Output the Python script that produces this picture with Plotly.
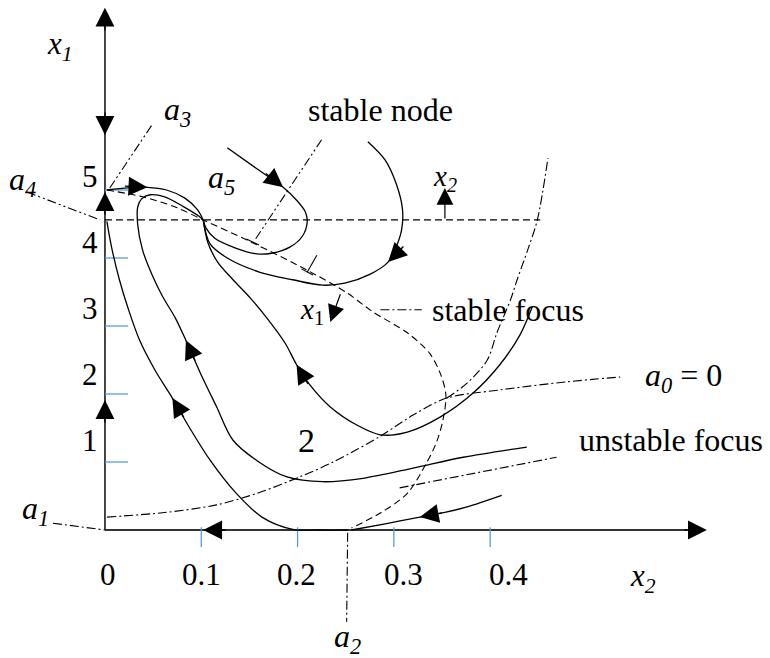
import math
import plotly.graph_objects as go

# ---------------- phase-plane data (x2 horizontal, x1 vertical) ----------------
# trajectories, each listed in the direction of motion
t1_x2 = [0.002, 0.024, 0.044, 0.064, 0.083, 0.096, 0.102]
t1_x1 = [5.00, 5.03, 5.04, 5.00, 4.88, 4.71, 4.56]

t2_x2 = [0.438, 0.372, 0.320, 0.268, 0.226, 0.189, 0.161, 0.133, 0.116, 0.099, 0.084,
         0.073, 0.060, 0.049, 0.039, 0.034, 0.034, 0.038, 0.047, 0.062, 0.081, 0.097, 0.102]
t2_x1 = [1.22, 1.07, 0.91, 0.76, 0.71, 0.78, 0.99, 1.32, 1.81, 2.31, 2.79,
         3.12, 3.43, 3.75, 4.12, 4.49, 4.75, 4.87, 4.93, 4.90, 4.76, 4.62, 4.56]

t3_x2 = [0.252, 0.223, 0.195, 0.163, 0.135, 0.109, 0.088, 0.070, 0.052, 0.036, 0.024, 0.015, 0.007, 0.002]
t3_x1 = [0.00, 0.00, 0.01, 0.19, 0.56, 1.03, 1.50, 1.94, 2.35, 2.79, 3.26, 3.68, 4.15, 4.54]

t4_x2 = [0.412, 0.376, 0.353, 0.327, 0.291, 0.256]
t4_x1 = [0.51, 0.34, 0.26, 0.19, 0.09, 0.00]

t6_x2 = [0.127, 0.163, 0.185, 0.199, 0.208, 0.210, 0.205, 0.192, 0.173, 0.158, 0.135, 0.114, 0.105, 0.102]
t6_x1 = [5.62, 5.26, 5.04, 4.85, 4.68, 4.53, 4.32, 4.16, 4.07, 4.06, 4.15, 4.29, 4.44, 4.56]

t7_x2 = [0.273, 0.291, 0.303, 0.309, 0.308, 0.302, 0.294, 0.275, 0.249, 0.226, 0.195, 0.161, 0.127, 0.109, 0.102]
t7_x1 = [5.71, 5.44, 5.07, 4.71, 4.41, 4.15, 3.94, 3.76, 3.63, 3.60, 3.68, 3.79, 4.00, 4.21, 4.56]

t8_x2 = [0.444, 0.431, 0.410, 0.382, 0.348, 0.314, 0.286, 0.262, 0.234, 0.213, 0.199,
         0.187, 0.168, 0.151, 0.133, 0.117, 0.107, 0.102]
t8_x1 = [3.29, 2.87, 2.43, 2.01, 1.66, 1.44, 1.40, 1.54, 1.81, 2.13, 2.43,
         2.75, 3.12, 3.41, 3.68, 3.94, 4.22, 4.56]

# index of the point on each trajectory that carries a direction arrow
arrow_index = {"t1": 2, "t2": 10, "t3": 7, "t4": 3, "t6": 2, "t7": 6, "t8": 10}

# dashed separatrix through the node a5
sep_x2 = [0.002, 0.039, 0.073, 0.102, 0.151, 0.210, 0.251, 0.278, 0.314, 0.337, 0.348,
          0.354, 0.351, 0.344, 0.334, 0.314, 0.286, 0.256]
sep_x1 = [5.00, 4.90, 4.75, 4.56, 4.24, 3.82, 3.49, 3.21, 2.90, 2.60, 2.31,
          1.99, 1.62, 1.28, 0.99, 0.54, 0.25, 0.03]

# horizontal nullcline x1 = const
null_x2 = [0.0, 0.452]
null_x1 = [4.56, 4.56]

# dash-dot boundary curves
a0_x2 = [0.002, 0.064, 0.116, 0.158, 0.202, 0.237, 0.286, 0.320, 0.355, 0.410, 0.480, 0.535]
a0_x1 = [0.19, 0.26, 0.37, 0.54, 0.78, 1.00, 1.38, 1.69, 1.94, 2.06, 2.18, 2.25]

focus_x2 = [0.355, 0.376, 0.397, 0.407, 0.421, 0.428, 0.439, 0.449, 0.460]
focus_x1 = [1.94, 2.16, 2.50, 2.90, 3.38, 3.68, 4.12, 4.56, 5.47]

unstable_x2 = [0.306, 0.469]
unstable_x1 = [0.62, 1.07]

a1_x2, a1_x1 = [-0.054, 0.0], [0.10, 0.0]
a2_x2, a2_x1 = [0.252, 0.251], [-0.04, -1.35]
a3_x2, a3_x1 = [0.005, 0.049], [5.03, 5.96]
a4_x2, a4_x1 = [-0.081, -0.005], [4.97, 4.56]
node_x2, node_x1 = [0.225, 0.155], [5.74, 4.25]
leader_x2, leader_x1 = [0.286, 0.329], [3.24, 3.24]

# small normal markers on the separatrix
bar1_x2, bar1_x1 = [0.147, 0.160], [4.28, 4.19]
stem2_x2, stem2_x1 = [0.220, 0.210], [4.04, 3.79]
bar2_x2, bar2_x1 = [0.204, 0.216], [3.84, 3.75]

# direction signs of x2' and x1' (tail, tip)
sign_x2 = [(0.353, 4.56), (0.353, 5.03)]
sign_x1 = [(0.245, 3.49), (0.234, 3.06)]

# axis extents and arrows along the axes
x_axis_end = 0.625
y_axis_end = 7.68
y_axis_arrows = [(5.81, -1), (4.97, 1), (1.91, 1)]   # (tip x1, direction)
x_axis_arrows = [(0.102, -1)]                         # (tip x2, direction)

x_tick_vals = [0.0, 0.1, 0.2, 0.3, 0.4]
x_tick_text = ["0", "0.1", "0.2", "0.3", "0.4"]
y_tick_vals = [1, 2, 3, 4, 5]
y_tick_text = ["1", "2", "3", "4", "5"]

# ---------------- figure set-up ----------------
W, H = 770, 658
X_RANGE = [-0.1090, 0.6906]
Y_RANGE = [-1.8824, 7.7941]
SX = W / (X_RANGE[1] - X_RANGE[0])
SY = H / (Y_RANGE[1] - Y_RANGE[0])
SERIF = "Liberation Serif, Times New Roman, serif"
TICK_BLUE = "#5b9bd5"

fig = go.Figure()


def curve(x, y, dash="solid", width=1.3, color="black", smooth=True):
    fig.add_trace(go.Scatter(
        x=x, y=y, mode="lines", hoverinfo="skip",
        line=dict(color=color, width=width, dash=dash,
                  shape="spline" if smooth else "linear", smoothing=0.9)))


def head(x, y, dx, dy, tail=24):
    """Filled arrow head with its tip at (x, y) pointing along (dx, dy)."""
    px, py = dx * SX, dy * SY
    n = math.hypot(px, py)
    fig.add_annotation(x=x, y=y, ax=-px / n * tail, ay=py / n * tail,
                       axref="pixel", ayref="pixel", text="", showarrow=True,
                       arrowhead=2, arrowsize=2.9, arrowwidth=1.3, arrowcolor="black",
                       standoff=0)


def label(x, y, text, size, xshift=0, yshift=0):
    fig.add_annotation(x=x, y=y, text=text, showarrow=False, xshift=xshift, yshift=yshift,
                       xanchor="center", yanchor="middle",
                       font=dict(family=SERIF, size=size, color="black"))


DASH = "7px,4px"
DASHDOT = "9px,3px,2px,3px"
DASHDOTDOT = "9px,3px,2px,3px,2px,3px"

# axes
curve([0, x_axis_end - 0.02], [0, 0], width=1.8, color="#333333", smooth=False)
curve([0, 0], [0, y_axis_end - 0.25], width=1.8, color="#333333", smooth=False)
head(x_axis_end, 0, 1, 0)
head(0, y_axis_end, 0, 1)
for tip, d in y_axis_arrows:
    head(0, tip, 0, d)
for tip, d in x_axis_arrows:
    head(tip, 0, d, 0)

# blue tick marks
for v in x_tick_vals[1:]:
    curve([v, v], [0.04, -0.25], width=1.3, color=TICK_BLUE, smooth=False)
for v in y_tick_vals:
    curve([0.0, 0.024], [v, v], width=1.3, color=TICK_BLUE, smooth=False)

# boundary curves
curve(null_x2, null_x1, dash=DASH, width=1.1, smooth=False)
curve(sep_x2, sep_x1, dash=DASH, width=1.1)
curve(a0_x2, a0_x1, dash=DASHDOT, width=1.1)
curve(focus_x2, focus_x1, dash=DASHDOT, width=1.1)
curve(unstable_x2, unstable_x1, dash=DASHDOT, width=1.1, smooth=False)
curve(a1_x2, a1_x1, dash=DASHDOT, width=1.1, smooth=False)
curve(a2_x2, a2_x1, dash=DASHDOT, width=1.1, smooth=False)
curve(a3_x2, a3_x1, dash=DASHDOTDOT, width=1.1, smooth=False)
curve(a4_x2, a4_x1, dash=DASHDOTDOT, width=1.1, smooth=False)
curve(node_x2, node_x1, dash=DASHDOTDOT, width=1.1, smooth=False)
curve(leader_x2, leader_x1, dash=DASHDOT, width=1.1, smooth=False)
curve(bar1_x2, bar1_x1, width=1.1, smooth=False)
curve(stem2_x2, stem2_x1, width=1.1, smooth=False)
curve(bar2_x2, bar2_x1, width=1.1, smooth=False)

# trajectories with their direction arrows
trajectories = {
    "t1": (t1_x2, t1_x1), "t2": (t2_x2, t2_x1), "t3": (t3_x2, t3_x1),
    "t4": (t4_x2, t4_x1), "t6": (t6_x2, t6_x1), "t7": (t7_x2, t7_x1),
    "t8": (t8_x2, t8_x1),
}
for name, (xs, ys) in trajectories.items():
    curve(xs, ys)
    i = arrow_index[name]
    j = min(i + 1, len(xs) - 1)
    head(xs[i], ys[i], xs[j] - xs[i - 1], ys[j] - ys[i - 1])

# small sign arrows for x2' and x1'
for (tx, ty), (hx, hy) in (sign_x2, sign_x1):
    fig.add_annotation(x=hx, y=hy, ax=tx, ay=ty, axref="x", ayref="y", text="",
                       showarrow=True, arrowhead=2, arrowsize=2.8, arrowwidth=1.2,
                       arrowcolor="black", standoff=0)

# tick labels
x_label_shift = [3, 0, -1, 10, 18]
for v, t, s in zip(x_tick_vals, x_tick_text, x_label_shift):
    label(v, -0.66, t, 31, xshift=s)
y_label_shift = [22, 20, 18, 16, 14]
for v, t, s in zip(y_tick_vals, y_tick_text, y_label_shift):
    label(-0.016, v, t, 31, yshift=s)

# symbol and region labels
label(-0.047, 7.12, "<i>x<sub>1</sub></i>", 31)
label(0.559, -0.71, "<i>x<sub>2</sub></i>", 31)
label(0.075, 6.15, "<i>a<sub>3</sub></i>", 32)
label(-0.086, 5.12, "<i>a<sub>4</sub></i>", 32)
label(0.121, 5.15, "<i>a<sub>5</sub></i>", 32)
label(-0.072, 0.28, "<i>a<sub>1</sub></i>", 32)
label(0.252, -1.60, "<i>a<sub>2</sub></i>", 32)
label(0.353, 5.18, "<i>x<sub>2</sub></i>", 29)
label(0.215, 3.22, "<i>x</i><sub>1</sub>", 29)
label(0.286, 6.18, "stable node", 32)
label(0.419, 3.24, "stable focus", 32)
label(0.588, 1.32, "unstable focus", 32)
label(0.601, 2.24, "<i>a<sub>0</sub></i> = 0", 32)
label(0.209, 1.32, "2", 34)

fig.update_xaxes(visible=False, range=X_RANGE, fixedrange=True)
fig.update_yaxes(visible=False, range=Y_RANGE, fixedrange=True)
fig.update_layout(width=W, height=H, margin=dict(l=0, r=0, t=0, b=0),
                  paper_bgcolor="white", plot_bgcolor="white", showlegend=False)

fig.write_html("out.html")
